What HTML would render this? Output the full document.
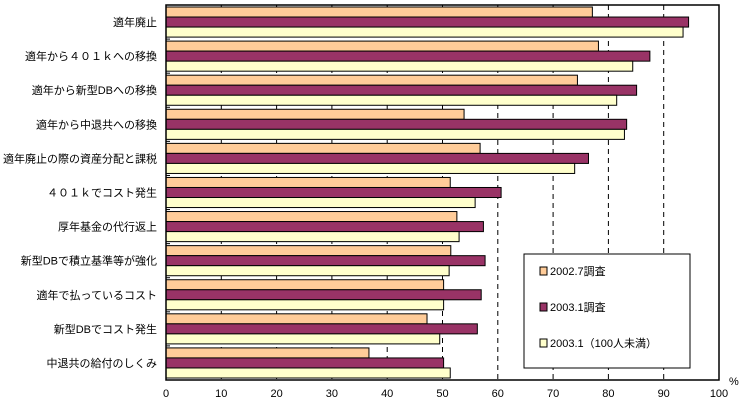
<!DOCTYPE html>
<html><head><meta charset="utf-8"><style>
body{margin:0;background:#fff;width:743px;height:410px;overflow:hidden}
text{font-family:"Liberation Sans","Noto Sans CJK JP",sans-serif;font-size:11px;fill:#000}
</style></head><body>
<svg id="chart" width="743" height="410" xmlns="http://www.w3.org/2000/svg"></svg>
<script>
const categories=["適年廃止","適年から４０１ｋへの移換","適年から新型DBへの移換","適年から中退共への移換","適年廃止の際の資産分配と課税","４０１ｋでコスト発生","厚年基金の代行返上","新型DBで積立基準等が強化","適年で払っているコスト","新型DBでコスト発生","中退共の給付のしくみ"];
const series1=[77.1,78.2,74.4,53.9,56.8,51.4,52.6,51.5,50.2,47.2,36.7];
const series2=[94.5,87.5,85.1,83.3,76.4,60.6,57.4,57.7,57,56.3,50.2];
const series3=[93.5,84.4,81.5,82.9,73.9,55.9,53,51.2,50.2,49.5,51.4];
const seriesNames=["2002.7調査","2003.1調査","2003.1（100人未満）"];
const tickLabels=[0,10,20,30,40,50,60,70,80,90,100];
const svg=document.getElementById('chart');const NS="http://www.w3.org/2000/svg";
const X0=166,X1=719,Y0=5,Y1=380;
const xs=v=>X0+(X1-X0)*v/100;
const band=(Y1-Y0)/categories.length;
function mk(t,a,p){const e=document.createElementNS(NS,t);for(const k in a)e.setAttribute(k,a[k]);(p||svg).appendChild(e);return e;}
const colors=["#ffcc99","#993366","#ffffcc"];
tickLabels.forEach(t=>{if(t>0&&t<100){const l=mk('line',{x1:xs(t),x2:xs(t),y1:Y0,y2:Y1,stroke:'#000','stroke-dasharray':'5,4','stroke-width':1});

}
const tx=mk('text',{x:xs(t),y:397,'text-anchor':'middle'});tx.textContent=t;

});
const data=[series1,series2,series3];
categories.forEach((c,i)=>{const top=Y0+i*band;
const lb=mk('text',{x:157,y:top+band/2+4,'text-anchor':'end'});lb.textContent=c;


const bh=(band-4)/3;
data.forEach((s,j)=>{const r=mk('rect',{x:X0,y:top+2+j*bh,width:xs(s[i])-X0,height:bh,fill:colors[j],stroke:'#000','stroke-width':1});

});
if(i>0){const t=mk('line',{x1:X0,x2:X0+4,y1:top,y2:top,stroke:'#000'});

}
});
const fr=mk('rect',{x:X0,y:Y0,width:X1-X0,height:Y1-Y0,fill:'none',stroke:'#000','stroke-width':1.5});


const pc=mk('text',{x:729,y:385});pc.textContent='%';


const lg=mk('g',{});


mk('rect',{x:524,y:254,width:166,height:114,fill:'#fff',stroke:'#000','stroke-width':1},lg);
seriesNames.forEach((n,j)=>{const y=272+j*36;
const sw=mk('rect',{x:540,y:y-5,width:7,height:8,fill:colors[j],stroke:'#000'},lg);


const t=mk('text',{x:550,y:y+3},lg);t.textContent=n;

});
</script>
</body></html>
